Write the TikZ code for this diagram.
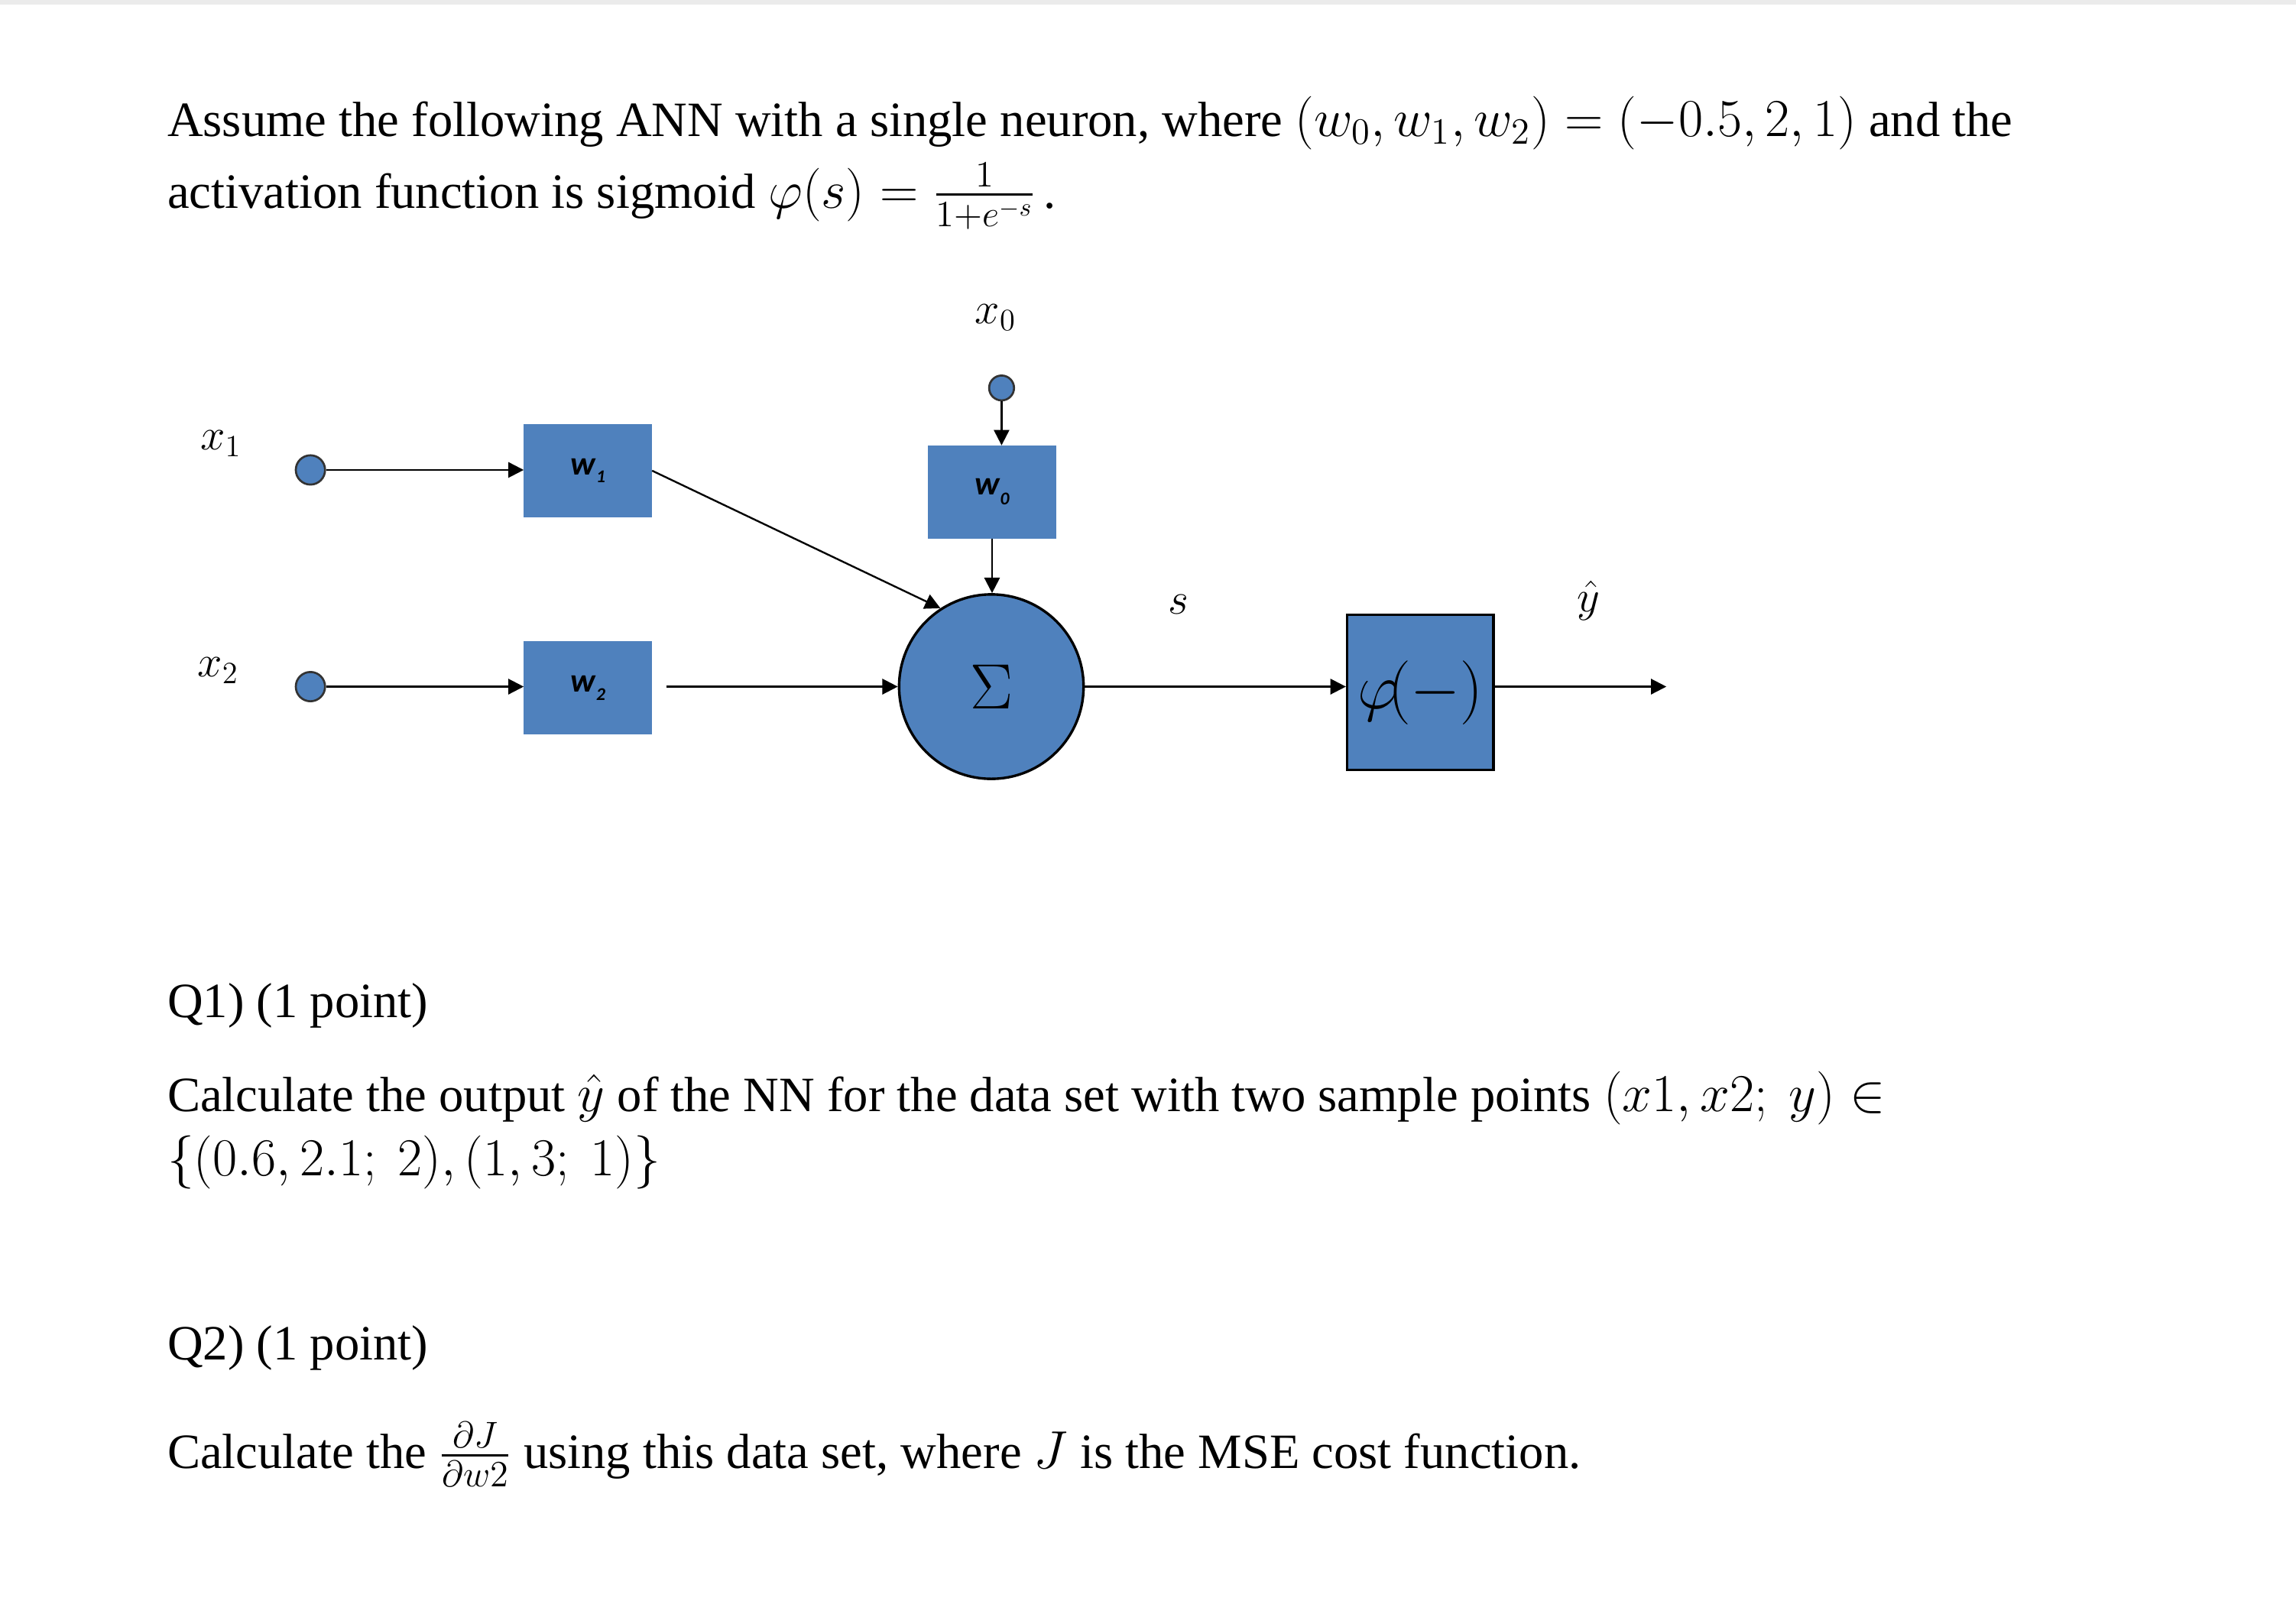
\documentclass[tikz,border=0pt]{standalone}
\usepackage{amsmath}
\usepackage{fontspec}
\setmainfont{Liberation Serif}
\setsansfont{Carlito}
\usetikzlibrary{arrows.meta}
\definecolor{nblue}{HTML}{4F81BD}
\begin{document}
\begin{tikzpicture}[x=0.02cm,y=-0.02cm,
  txt/.style={anchor=base west,inner sep=0,font=\fontsize{19.2}{22}\selectfont},
  wbox/.style={draw=nblue,fill=nblue,minimum width=1.74cm,minimum height=1.26cm,inner sep=0,font=\sffamily\bfseries\fontsize{13}{15}\selectfont},
  dot/.style={circle,draw=black!80,fill=nblue,inner sep=0,minimum size=0.4cm,line width=0.8pt},
  arr/.style={-{Triangle[length=6pt,width=6pt]},line width=0.7pt},
  lab/.style={font=\fontsize{18}{20}\selectfont}]
\useasboundingbox (0,0) rectangle (1568,1104);
\fill[black!8] (0,0) rectangle (1568,3);
\node[txt] (t1) at (114,93) {Assume the following ANN with a single neuron, where $(w_0,w_1,w_2)=(-0.5,2,1)$ and the};
\node[txt] (t2) at (114,142) {activation function is sigmoid $\varphi(s)=\frac{1}{1+e^{-s}}$\,.};
% nodes
\node[lab] (lx1) at (151,303) {$x_1$};
\node[lab] (lx2) at (149,458) {$x_2$};
\node[lab] (lx0) at (680,217) {$x_0$};
\node[dot] (c1) at (212,321) {};
\node[dot] (c2) at (212,469) {};
\node[dot,minimum size=0.34cm] (c0) at (684,265) {};
\node[wbox] (w1) at (401.5,321.5) {\textit{w}\raisebox{-0.5ex}{\textit{\scriptsize 1}}};
\node[wbox] (w2) at (401.5,470) {\textit{w}\raisebox{-0.5ex}{\textit{\scriptsize 2}}};
\node[wbox] (w0) at (677.5,336) {\textit{w}\raisebox{-0.6ex}{\textit{\scriptsize 0}}};
\node[circle,draw=black,line width=1pt,fill=nblue,minimum size=2.52cm,inner sep=0,font=\fontsize{44}{44}\selectfont] (sig) at (677,469) {$\Sigma$};
\node[draw=black,line width=1pt,fill=nblue,minimum width=2cm,minimum height=2.12cm,inner sep=0,font=\fontsize{28}{28}\selectfont] (phi) at (970,473) {$\varphi\!(-)$};
\node[lab] (ls) at (805,413) {$s$};
\node[lab] (ly) at (1085,410) {$\hat{y}$};
\coordinate (out) at (1138,469);
\coordinate (w2r) at (455,469);
% connectors
\draw[arr] (c1) -- (w1.west |- c1);
\draw[arr] (c2) -- (w2.west |- c2);
\draw[arr] (w1.east) -- (sig.123);
\draw[arr] (w2r) -- (sig.west);
\draw[arr] (c0) -- (c0 |- w0.north);
\draw[arr] (w0.south) -- (w0.south |- sig.north);
\draw[arr] (sig.east) -- (phi.west |- sig.east);
\draw[arr] (phi.east |- out) -- (out);
% questions
\node[txt] (q1) at (114,695) {Q1) (1 point)};
\node[txt] (q1a) at (114,759) {Calculate the output $\hat{y}$ of the NN for the data set with two sample points $(x1,x2;\ y)\in$};
\node[txt] (q1b) at (114,803) {$\{(0.6,2.1;\ 2),(1,3;\ 1)\}$};
\node[txt] (q2) at (114,929) {Q2) (1 point)};
\node[txt] (q2a) at (114,1003) {Calculate the $\frac{\partial J}{\partial w2}$ using this data set, where $J$ is the MSE cost function.};
\end{tikzpicture}
\end{document}
